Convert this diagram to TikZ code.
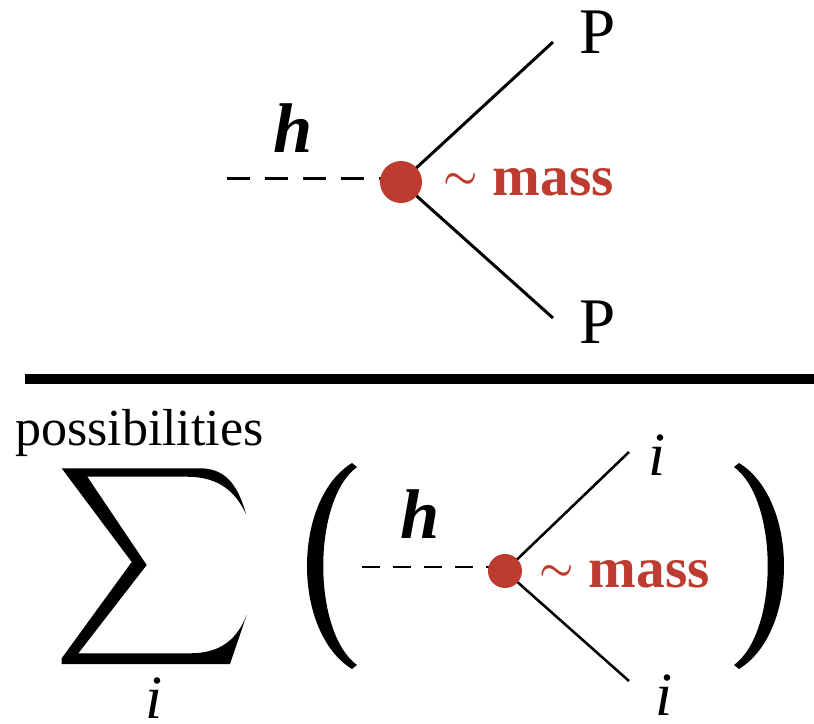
\documentclass[tikz,border=0pt]{standalone}
\usepackage{fontspec}
\setmainfont{Liberation Serif}
\definecolor{massred}{RGB}{190,60,47}
\newcommand{\bigtilde}{\raisebox{1.9pt}{\fontsize{11}{12}\selectfont\boldmath$\sim$}}
\tikzset{
  fline/.style={line width=0.85pt},
  tline/.style={line width=0.72pt},
  hdashA/.style={line width=0.85pt, dash pattern=on 6.5pt off 4.3pt},
  hdashB/.style={line width=0.72pt, dash pattern=on 5.1pt off 3.7pt},
  vdot/.style={circle, fill=massred, inner sep=0pt, minimum size=#1},
  lbl/.style={anchor=base west, inner sep=0pt, outer sep=0pt},
  hfont/.style={font=\fontsize{20}{22}\selectfont\bfseries\itshape},
  pfont/.style={font=\fontsize{18.5}{22}\selectfont},
  ifont/.style={font=\fontsize{17.5}{20}\selectfont\itshape},
  mfont/.style={font=\fontsize{16.3}{18}\selectfont, text=massred},
}
\begin{document}
\begin{tikzpicture}[x=0.01cm,y=-0.01cm]
\useasboundingbox (0,0) rectangle (814,723);

% ---------- top vertex ----------
\coordinate (vA) at (401,182);
\coordinate (hA) at (227,178);
\coordinate (pA1) at (553,42);
\coordinate (pA2) at (553,318);
\draw[hdashA] (hA) -- (vA |- hA);
\draw[fline] (vA) -- (pA1);
\draw[fline] (vA) -- (pA2);
\node[vdot=0.42cm] (dotA) at (vA) {};
\node[lbl, hfont] (hlabA) at (274,152) {h};
\node[lbl, mfont] (massA) at (444,195) {\bigtilde\hspace{0.25em}\textbf{mass}};
\node[lbl, pfont] (PA1) at (580,53) {P};
\node[lbl, pfont] (PA2) at (580,343) {P};

% ---------- separator ----------
\coordinate (sepL) at (25,379);
\coordinate (sepR) at (814,379);
\draw[line width=2.85pt] (sepL) -- (sepR);

% ---------- sum ----------
\node[lbl, font=\fontsize{14.8}{16}\selectfont] (poss) at (15,445) {possibilities};
\fill (61.7,468.3) -- (200,468.3)
  .. controls (226.7,468.3) and (238.3,486.7) .. (246,514)
  .. controls (233.3,486.7) and (213.3,476.7) .. (186.7,476.7)
  -- (87.3,476.7) -- (146.7,565) -- (78.3,653.3) -- (190,653.3)
  .. controls (220,653.3) and (236.7,640) .. (246.7,615)
  -- (230,664) -- (61.7,664) -- (61.7,658.3) -- (131.7,562) -- cycle;
\node[lbl, ifont] (isum) at (146,718) {i};

% ---------- parentheses ----------
\fill (352,463) .. controls (292,500) and (292,632) .. (352,669)
  -- (357,665) .. controls (312,632) and (312,500) .. (357,467) -- cycle;
\fill (739,463) .. controls (799,500) and (799,632) .. (739,669)
  -- (734,665) .. controls (779,632) and (779,500) .. (734,467) -- cycle;

% ---------- bottom vertex ----------
\coordinate (vB) at (505,571);
\coordinate (hB) at (362,567);
\coordinate (iB1) at (629,452);
\coordinate (iB2) at (629,681);
\draw[hdashB] (hB) -- (vB |- hB);
\draw[tline] (vB) -- (iB1);
\draw[tline] (vB) -- (iB2);
\node[vdot=0.34cm] (dotB) at (vB) {};
\node[lbl, hfont] (hlabB) at (401,538) {h};
\node[lbl, mfont] (massB) at (540,587) {\bigtilde\hspace{0.25em}\textbf{mass}};
\node[lbl, ifont] (iLab1) at (649,475) {i};
\node[lbl, ifont] (iLab2) at (656,715) {i};
\end{tikzpicture}
\end{document}
